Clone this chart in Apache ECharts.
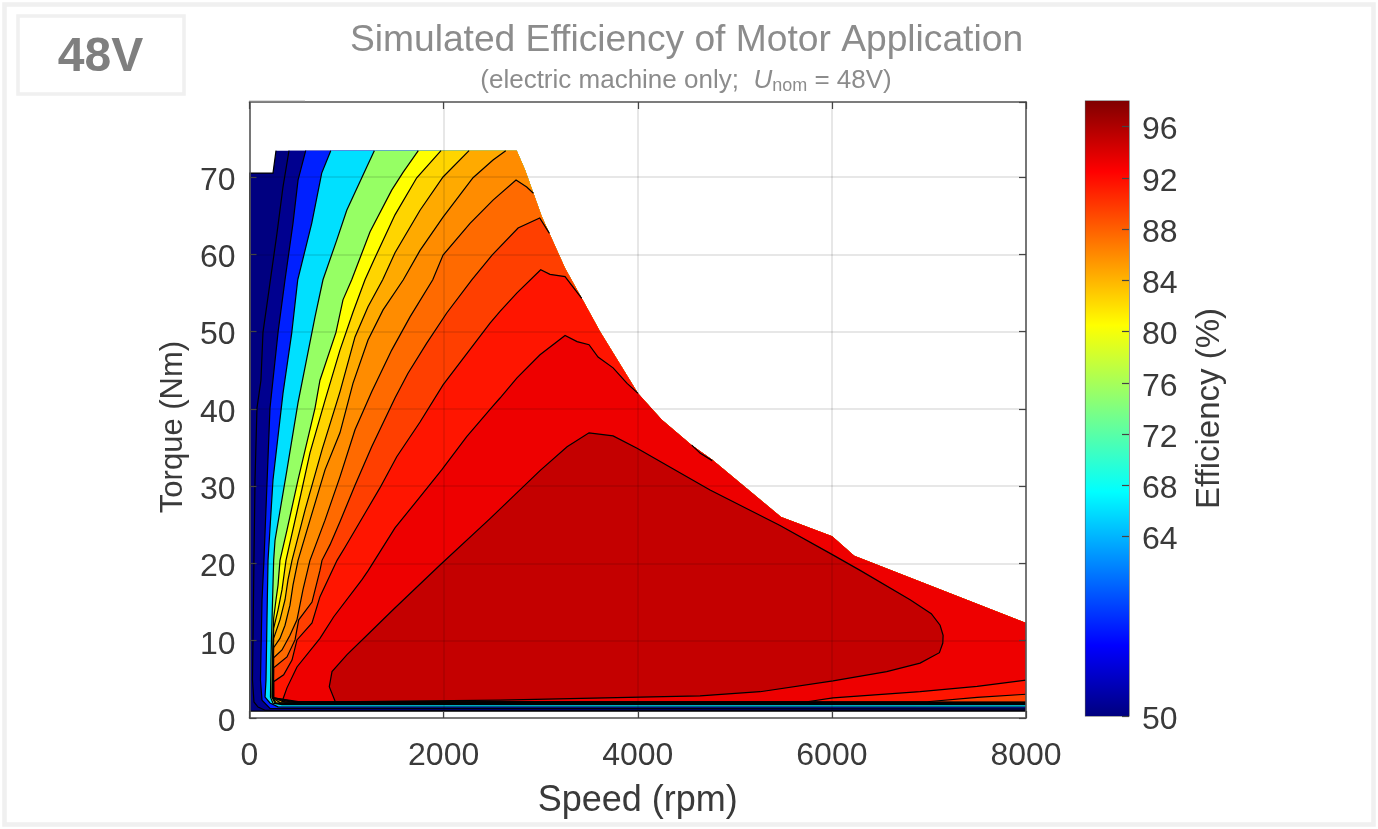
<!DOCTYPE html>
<html><head><meta charset="utf-8">
<style>html,body{margin:0;padding:0;background:#fff}#c{width:1378px;height:829px}</style>
<script src="https://cdn.jsdelivr.net/npm/echarts@6/dist/echarts.min.js"></script>
</head><body><div id="c"></div>
<script>
const levels = [50,52,58,66,76,80,82,84,86,88,90,92,94,96];
const bandColors = ['#000080','#00008f','#0020ff','#00e0ff','#96ff64','#ffff00','#ffd500','#ffaa00','#ff8c00','#ff6a00','#ff3f00','#ff1500','#ee0000','#c40000'];
const rightEdge = [[8000,12.3],[6229,21],[6002,23.5],[5476,26],[4767,33.4],[4556,35.3],[4247,38.6],[4003,42],[3611,50],[3423,54.3],[3251,58.2],[3011,64.9],[2839,70.9],[2753,73.4]];
const edgeCounts = [14,14,14,14,14,14,14,14,14,12,11,10,7,0];
const c50 = [[273,73.4],[242,70.5],[0,70.5],[0,0.9],[8000,0.9]];
const c52 = [[407,73.4],[345,68.7],[283,62.7],[201,55.4],[139,49.9],[118,43.7],[77,40.1],[57,30.8],[46,20.4],[31,4.9],[46,2.07],[88,1.42],[160,1.0],[8000,1.0]];
const c58 = [[579,73.4],[500,69.6],[448,64],[366,56.7],[294,49.9],[211,40.1],[149,20.4],[129,15.3],[113,4.9],[129,2.3],[211,1.25],[8000,1.19]];
const c66 = [[837,73.4],[744,70.5],[641,64],[497,56.7],[435,49.8],[345,42],[242,30.8],[191,20.4],[180,12.7],[170,4.9],[160,2.7],[211,1.94],[294,1.45],[8000,1.42]];
const c76 = [[1286,73.4],[1208,71.3],[1002,65.7],[898,61.8],[757,56.7],[675,51.9],[500,40.8],[386,32.1],[263,23],[249,20.4],[232,12.7],[221,7.5],[216,2.7],[242,1.9],[335,1.72],[8000,1.72]];
const c80 = [[1739,73.4],[1582,70.6],[1465,68.3],[1242,62.9],[1053,56.7],[963,54.1],[891,49.9],[726,43.7],[675,40.1],[500,30.8],[386,24.3],[314,20.4],[294,17.2],[273,15.3],[249,12.9],[237,7.5],[232,2.7],[263,1.92],[366,1.79],[8000,1.79]];
const c82 = [[1973,73.4],[1723,69.9],[1499,65.1],[1283,59.3],[1190,56.7],[1066,52.5],[932,47.6],[778,41.1],[623,34.3],[500,27.3],[376,20.4],[335,16.6],[294,14],[249,11.6],[239,6.9],[235,2.7],[273,1.96],[417,1.85],[8000,1.85]];
const c84 = [[2262,73.4],[1994,70],[1757,65.7],[1499,60.2],[1372,56.7],[1221,53.2],[1087,49.3],[932,42.2],[747,34.7],[572,26.9],[438,20.4],[397,17.9],[366,15.3],[314,12.7],[249,10.3],[242,6.2],[238,2.6],[314,2],[469,1.91],[8000,1.91]];
const c86 = [[2640,73.4],[2509,72.2],[2303,69.9],[1994,64.8],[1757,60.5],[1585,56.7],[1376,52.8],[1221,48.9],[1066,43.3],[932,36.9],[778,32.1],[623,25.6],[500,20.4],[448,17.2],[417,14.6],[366,12],[314,10.3],[249,9.1],[244,5.6],[242,2.6],[366,2.05],[572,1.97],[8000,1.97]];
const c88 = [[2925,67.9],[2856,68.7],[2746,69.6],[2509,67],[2272,64],[1994,59.9],[1888,56.7],[1654,51.9],[1465,47.6],[1259,42.2],[1087,37.3],[932,31.2],[778,25.6],[623,20.4],[551,16.6],[489,12.7],[417,10.7],[335,8.8],[249,7.8],[246,4.9],[246,2.6],[417,2.1],[726,2.02],[8000,2.02]];
const c90 = [[3090,62.7],[2990,64.7],[2767,63.4],[2499,59.9],[2290,56.7],[2032,52.4],[1826,48.5],[1633,44.6],[1499,41.4],[1259,35.1],[1087,30.1],[932,25.4],[829,22.4],[747,20.4],[726,19.1],[644,15],[507,12.7],[469,10.1],[386,7.9],[249,6.5],[248,2.6],[469,2.1],[830,2.07],[8000,2.07]];
const c92 = [[3423,54.3],[3251,57.1],[3096,57.4],[3000,58],[2756,55],[2581,52.6],[2478,51.1],[1994,43.1],[1757,38.3],[1517,33.8],[1345,29.8],[1190,26.5],[984,22.1],[902,20.4],[726,15.7],[644,12.3],[489,10.1],[438,7.5],[352,5.6],[249,4.7],[250,2.6],[520,2.1],[6981,2.1],[7497,2.68],[8000,3.07]];
const c94 = [[4003,42],[3890,43.3],[3746,45.3],[3591,46.7],[3498,48.3],[3375,48.7],[3251,49.5],[2993,47],[2756,44],[2581,41.4],[2496,40.2],[2238,36.4],[1980,32.1],[1757,28.6],[1499,24.6],[1224,19.1],[1159,17.9],[868,13.1],[726,10.3],[489,6.6],[386,3.9],[335,2.1],[5745,2.1],[6012,2.6],[6909,3.4],[7497,4.1],[8000,4.9]];
const c96 = [[884,2.1],[822,4.05],[850,6],[1005,8.2],[1242,11.1],[1479,14],[1963,19.8],[2478,25.8],[2993,32],[3272,35.1],[3498,36.9],[3746,36.5],[3993,34.9],[4353,32.3],[4745,29.5],[5466,24.9],[5982,21.3],[6291,19.1],[6806,15.3],[7024,13.5],[7115,12],[7146,10.7],[7143,9.7],[7108,8.45],[6909,7.1],[6565,6],[6012,4.8],[5260,3.4],[4642,2.85],[4024,2.7],[2581,2.3],[884,2.1]];
const edgeStub94 = [[4556,35.3],[4640,34.3],[4767,33.3]];
const contours = [c50,c52,c58,c66,c76,c80,c82,c84,c86,c88,c90,c92,c94,c96];

const barTicks = [50,64,68,72,76,80,84,88,92,96];
const barStopValues = [50,55.5,67.5,74,80.5,92.5,98];
const barStopColors = ['#00007f','#0000ff','#00ffff','#80ff80','#ffff00','#ff0000','#800000'];
const xMax = 8000, yMax = 79.7, barMin = 50, barMax = 98;
const textCol = '#3a3a3a', frameCol = '#5a5a5a';

const gridLine = {show:true,lineStyle:{color:'rgba(0,0,0,0.13)',width:1.5}};
const tick = {show:true,inside:true,length:7,lineStyle:{color:'#444',width:1.2}};
const line = {show:true,onZero:false,lineStyle:{color:frameCol,width:1.6}};

function renderBand(params, api){
  const i = params.dataIndex;
  const fill = contours[i].concat(rightEdge.slice(0,edgeCounts[i])).map(p=>api.coord(p));
  return {type:'polygon',shape:{points:fill},style:{fill:bandColors[i],stroke:null},silent:true};
}
function renderContour(params, api){
  const i = params.dataIndex;
  const pts = contours[i].map(p=>api.coord(p));
  return {type:'polyline',shape:{points:pts},style:{fill:null,stroke:'#000',lineWidth:1.2},silent:true};
}
const chart = echarts.init(document.getElementById('c'),null,{renderer:'canvas'});
chart.setOption({
  animation:false,
  backgroundColor:'#fff',
  title:[
    {text:'Simulated Efficiency of Motor Application',left:681.5,top:17,textAlign:'center',
     textStyle:{fontFamily:'Liberation Sans',fontWeight:'normal',fontSize:37.2,color:'#8c8c8c'}},
    {text:'{n|(electric machine only;  }{i|U}{s|nom}{n| = 48V)}',left:681,top:62,textAlign:'center',
     textStyle:{fontWeight:'normal',rich:{
       n:{fontFamily:'Liberation Sans',fontWeight:'normal',fontSize:26,color:'#8c8c8c'},
       i:{fontFamily:'Liberation Sans',fontWeight:'normal',fontStyle:'italic',fontSize:26,color:'#8c8c8c'},
       s:{fontFamily:'Liberation Sans',fontWeight:'normal',fontSize:18,color:'#8c8c8c',verticalAlign:'bottom',padding:[10,0,0,0]}
     }}}
  ],
  graphic:[
    {type:'rect',z:-10,shape:{x:4.5,y:4.5,width:1369,height:820},style:{fill:'#fff',stroke:'#f0f0f0',lineWidth:4.5}},
    {type:'rect',z:-9,shape:{x:18,y:16,width:166,height:78},style:{fill:'#fff',stroke:'#f0f0f0',lineWidth:3.5}},
    {type:'text',z:20,x:100.5,y:58,style:{text:'48V',fontFamily:'Liberation Sans',fontWeight:'bold',fontSize:48,fill:'#7f7f7f',align:'center',verticalAlign:'middle'}},
    {type:'line',z:20,shape:{x1:249,y1:101.2,x2:305,y2:101.2},style:{stroke:'#8a8a8a',lineWidth:1}}
  ],
  grid:[
    {left:249.5,top:102,width:776.5,height:616},
    {left:1085.5,top:101,width:43.5,height:615,show:true,borderColor:'#555',borderWidth:1.2,backgroundColor:'transparent'}
  ],
  xAxis:[
    {type:'value',gridIndex:0,min:0,max:xMax,interval:2000,z:5,position:'bottom',
     axisLine:line,axisTick:tick,splitLine:gridLine,
     axisLabel:{fontFamily:'Liberation Sans',fontSize:32,color:textCol,margin:22,formatter:v=>String(v)},
     name:'Speed (rpm)',nameLocation:'middle',nameGap:65,
     nameTextStyle:{fontFamily:'Liberation Sans',fontSize:36,color:textCol}},
    {type:'value',gridIndex:0,min:0,max:xMax,interval:2000,z:5,position:'top',
     axisLine:line,axisTick:tick,splitLine:{show:false},axisLabel:{show:false}},
    {type:'category',gridIndex:1,data:['Efficiency'],axisLine:{show:false},axisTick:{show:false},axisLabel:{show:false},splitLine:{show:false}}
  ],
  yAxis:[
    {type:'value',gridIndex:0,min:0,max:yMax,interval:10,z:5,position:'left',
     axisLine:line,axisTick:tick,splitLine:gridLine,
     axisLabel:{fontFamily:'Liberation Sans',fontSize:32,color:textCol,margin:14,showMaxLabel:false,verticalAlign:'top',lineHeight:8},
     name:'Torque (Nm)',nameLocation:'middle',nameGap:60,nameRotate:90,
     nameTextStyle:{fontFamily:'Liberation Sans',fontSize:31,color:textCol,padding:[0,34,0,0]}},
    {type:'value',gridIndex:0,min:0,max:yMax,interval:10,z:5,position:'right',
     axisLine:line,axisTick:tick,splitLine:{show:false},axisLabel:{show:false}},
    {type:'value',gridIndex:1,min:barMin,max:barMax,position:'right',z:5,
     axisLine:{show:false},
     axisTick:{show:true,inside:true,length:7,customValues:barTicks,lineStyle:{color:'#444',width:1.2}},
     axisLabel:{fontFamily:'Liberation Sans',fontSize:32,color:textCol,margin:13,customValues:barTicks,verticalAlign:'top',lineHeight:8},
     splitLine:{show:false},
     name:'Efficiency (%)',nameLocation:'middle',nameGap:81,nameRotate:90,
     nameTextStyle:{fontFamily:'Liberation Sans',fontSize:33,color:textCol,verticalAlign:'middle'}}
  ],
  series:[
    {type:'custom',name:'bands',coordinateSystem:'cartesian2d',xAxisIndex:0,yAxisIndex:0,z:1,clip:true,silent:true,
     renderItem:renderBand,data:levels.map((l,i)=>[contours[i][0][0],contours[i][0][1],l])},
    {type:'custom',name:'contours',coordinateSystem:'cartesian2d',xAxisIndex:0,yAxisIndex:0,z:2,clip:true,silent:true,
     renderItem:renderContour,data:levels.map((l,i)=>[contours[i][0][0],contours[i][0][1],l])},
    {type:'line',name:'edge contour',xAxisIndex:0,yAxisIndex:0,z:2,data:edgeStub94,showSymbol:false,silent:true,
     lineStyle:{color:'#000',width:1.2}},
    {type:'bar',name:'colorbar',xAxisIndex:2,yAxisIndex:2,barWidth:'100%',silent:true,z:1,
     data:[{value:barMax,itemStyle:{color:new echarts.graphic.LinearGradient(0,1,0,0,
       barStopValues.map((v,i)=>({offset:(v-barMin)/(barMax-barMin),color:barStopColors[i]})))}}]}
  ]
});
</script></body></html>
